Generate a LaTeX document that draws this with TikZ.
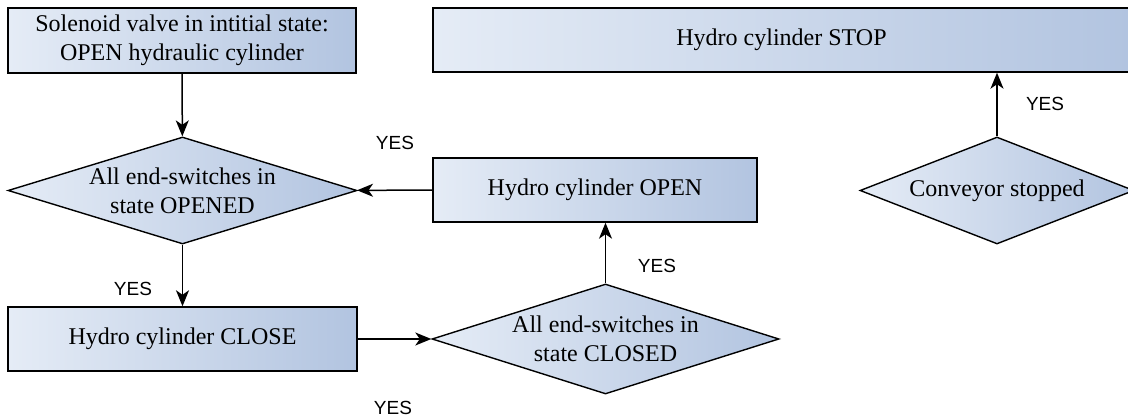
\documentclass[tikz,border=0pt]{standalone}
\usepackage{fontspec}
\setmainfont{Liberation Serif}
\newfontfamily\yesfont{Liberation Sans}
\usetikzlibrary{shapes.geometric,arrows.meta}

\definecolor{fillL}{RGB}{229,236,246}
\definecolor{fillR}{RGB}{178,196,224}

\tikzset{
  every node/.style={font=\fontsize{24}{29}\selectfont},
  stepbox/.style={draw=black, line width=1.4pt, rectangle, inner sep=0pt,
    left color=fillL, right color=fillR, align=center},
  decision/.style={draw=black, line width=1.4pt, diamond, inner sep=0pt,
    left color=fillL, right color=fillR},
  dtext/.style={align=center, inner sep=0pt, font=\fontsize{24}{29}\selectfont},
  flow/.style={line width=1.5pt, -{Stealth[length=16pt,width=13pt,inset=4.5pt]}},
  yes/.style={font=\yesfont\fontsize{19}{22}\selectfont, inner sep=0pt},
}

\begin{document}
\begin{tikzpicture}[x=1pt,y=-1pt]
  \useasboundingbox (0,0) rectangle (1128,419);
  \clip (0,0) rectangle (1128,419);

  % process boxes
  \node[stepbox, minimum width=348pt, minimum height=65pt] (init) at (182,40.5)
    {Solenoid valve in intitial state:\\OPEN hydraulic cylinder};
  \node[stepbox, minimum width=324pt, minimum height=64pt] (open) at (595,190)
    {Hydro cylinder OPEN};
  \node[stepbox, minimum width=349pt, minimum height=64pt] (close) at (182.5,339)
    {Hydro cylinder CLOSE};
  \node[stepbox, minimum width=697pt, minimum height=64pt] (stop) at (781.5,40)
    {Hydro cylinder STOP};

  % decisions
  \node[decision, minimum width=349pt, minimum height=107pt,
        label={[dtext]center:All end-switches in\\state OPENED}] (opened) at (182.5,190.5) {};
  \node[decision, minimum width=347pt, minimum height=110pt,
        label={[dtext]center:All end-switches in\\state CLOSED}] (closed) at (605.5,339) {};
  \node[decision, minimum width=274pt, minimum height=107pt,
        label={[dtext]center:Conveyor stopped}] (conv) at (997,190.5) {};

  % connectors
  \draw[flow] (init) -- (opened);
  \draw[flow] (opened) -- (close);
  \draw[flow] (close) -- (closed);
  \draw[flow] (closed.north) -- (closed.north |- open.south);
  \draw[flow] (open) -- (opened);
  \draw[flow] (conv.north) -- (conv.north |- stop.south);

  % branch labels
  \node[yes] (y1) at (395,143) {YES};
  \node[yes] (y2) at (133,289) {YES};
  \node[yes] (y3) at (657,266) {YES};
  \node[yes] (y4) at (393,408) {YES};
  \node[yes] (y5) at (1045,104) {YES};
\end{tikzpicture}
\end{document}
